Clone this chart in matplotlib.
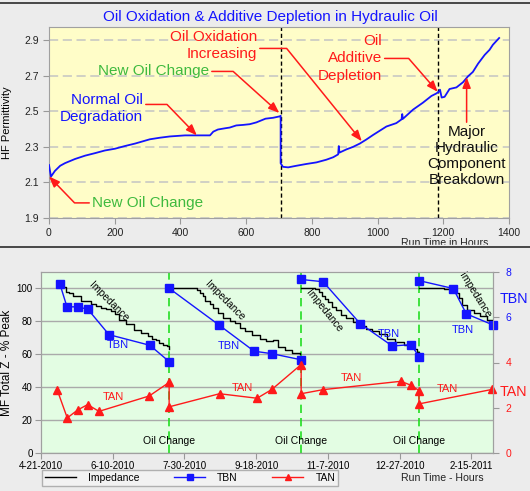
import numpy as np
import matplotlib.pyplot as plt
from matplotlib.lines import Line2D
from matplotlib.patches import Rectangle

plt.rcParams['font.family'] = ['Liberation Sans', 'DejaVu Sans']

# hydraulic oil: HF permittivity vs run time (hours)
hf_hours = [0, 6, 18, 34, 49, 79, 110, 140, 170, 201, 231, 262, 307, 338, 368,
            414, 490, 500, 514, 536, 550, 570, 591, 611, 631, 659, 682, 702, 705,
            705, 712, 728, 753, 783, 814, 844, 865, 880, 882, 884, 905, 925, 946,
            966, 986, 1027, 1057, 1073, 1075, 1077, 1108, 1138, 1164, 1179, 1187,
            1190, 1195, 1204, 1219, 1240, 1260, 1275, 1290, 1306, 1326, 1341,
            1351, 1370]
hf_perm = [2.198, 2.133, 2.165, 2.194, 2.209, 2.232, 2.251, 2.265, 2.280, 2.290,
           2.305, 2.319, 2.343, 2.352, 2.359, 2.365, 2.365, 2.386, 2.398, 2.405,
           2.409, 2.421, 2.424, 2.428, 2.438, 2.459, 2.464, 2.472, 2.475, 2.208,
           2.188, 2.185, 2.194, 2.204, 2.213, 2.228, 2.242, 2.258, 2.305, 2.268,
           2.286, 2.300, 2.319, 2.342, 2.367, 2.415, 2.434, 2.455, 2.485, 2.458,
           2.510, 2.549, 2.587, 2.601, 2.612, 2.622, 2.578, 2.582, 2.626, 2.635,
           2.664, 2.697, 2.722, 2.769, 2.818, 2.847, 2.875, 2.913]
event_hours = [705, 1184]

# diesel engine oil, x = days since 4-21-2010, nan = oil change break
nan = np.nan
imp_days = [12.9, 17.4, 19.7, 22.1, 27.9, 34.8, 38.3, 41.8, 45.3, 48.6, 51.5,
            54.5, 59.2, 64.9, 69.6, 74.3, 77.3, 80.1, 82.4, 84.7, 88.1, 89.3, nan,
            89.3, 107.2, 108.4, 110.7, 113.0, 114.2, 117.7, 120.0, 123.5, 127.0,
            131.6, 135.1, 138.6, 142.1, 146.7, 152.5, 157.1, 161.8, 165.3, 170.0,
            175.0, 180.6, nan,
            181.3, 187.7, 191.1, 193.4, 195.7, 197.9, 200.2, 202.5, 205.9, 209.3,
            212.7, 217.3, 223.0, 226.5, 231.0, 235.6, 241.3, 247.0, 252.7, 256.1,
            259.6, 262.0, 263.4, nan,
            263.4, 270.0, 281.0, 287.0, 289.0, 291.5, 293.7, 297.0, 301.7, 306.0,
            311.0, 315.0]
imp_pct = [101.0, 97.8, 97.0, 95.3, 92.3, 90.7, 89.2, 88.2, 87.6, 86.6, 84.2,
           81.1, 78.5, 75.0, 73.0, 71.0, 69.0, 68.5, 67.0, 65.9, 64.9, 63.1, nan,
           100.0, 100.0, 99.0, 97.4, 95.3, 92.3, 90.3, 88.3, 85.2, 82.2,
           80.1, 79.1, 76.1, 74.0, 72.0, 69.0, 67.9, 68.5, 64.5, 62.5,
           61.0, 60.0, nan,
           100.0, 100.0, 99.6, 98.1, 95.7, 93.3, 91.8, 88.8, 86.9, 83.9,
           82.0, 79.6, 77.1, 75.1, 74.1, 72.2, 69.2, 67.3, 65.9, 64.5,
           63.5, 61.5, 60.5, nan,
           100.0, 100.0, 99.5, 99.5, 97.5, 94.0, 90.0, 87.0, 85.0, 83.0,
           81.0, 78.0]
tbn_days = [13.2, 18.1, 25.8, 32.7, 47.4, 75.9, 89.3, nan,
            89.3, 124.2, 148.5, 160.9, 181.3, nan,
            181.3, 196.6, 222.4, 244.8, 257.9, 263.4, nan,
            263.4, 287.3, 296.4, 315.0]
tbn = [7.46, 6.46, 6.46, 6.35, 5.23, 4.76, 4.04, nan,
       7.28, 5.65, 4.50, 4.39, 4.12, nan,
       7.67, 7.57, 5.72, 4.73, 4.79, 4.26, nan,
       7.62, 7.27, 6.15, 5.66]
tan_days = [11.4, 18.3, 25.5, 32.5, 40.4, 75.4, 89.3, 89.3, 124.4, 150.6, 160.9,
            181.3, 181.3, 196.6, 250.9, 257.9, 263.4, 263.4, 314.3]
tan = [2.77, 1.55, 1.90, 2.14, 1.84, 2.52, 3.12, 2.04, 2.62, 2.42, 2.81,
       3.91, 2.62, 2.80, 3.17, 2.99, 2.76, 2.17, 2.81]
oil_change_days = [89.3, 181.3, 263.4]
date_ticks = [0, 50, 100, 150, 200, 250, 300]
date_labels = ['4-21-2010', '6-10-2010', '7-30-2010', '9-18-2010', '11-7-2010',
               '12-27-2010', '2-15-2011']

W, H = 530, 491
bg = '#ececec'
blue = '#1414ff'
red = '#ff1a1a'
green = '#3fba3f'

fig = plt.figure(figsize=(W / 100, H / 100), dpi=100, facecolor=bg)

# ---- top chart ----
ax1 = fig.add_axes([49 / W, 1 - 218 / H, 460 / W, 191 / H])
ax1.set_facecolor('#fffdc8')
ax1.plot(hf_hours, hf_perm, color=blue, lw=1.3, zorder=3)
for h in event_hours:
    ax1.axvline(h, color='black', lw=1, dashes=(3, 2), zorder=2)
ax1.set_xlim(0, 1400)
ax1.set_ylim(1.9, 2.975)
ax1.set_xticks(range(0, 1401, 200))
ax1.set_yticks([1.9, 2.1, 2.3, 2.5, 2.7, 2.9])
ax1.yaxis.grid(True, color='#c4c4c4', lw=1.1, dashes=(6, 3))
ax1.tick_params(labelsize=7.5, length=4, pad=3, color='#999999', labelcolor='#222222')
for s in ax1.spines.values():
    s.set_color('#a0a0a0')
ax1.set_ylabel('HF Permittivity', fontsize=8)
ax1.yaxis.set_label_coords(-0.08, 0.5)

fig.text(270 / W, 1 - 17 / H, 'Oil Oxidation & Additive Depletion in Hydraulic Oil',
         color=blue, fontsize=11, ha='center', va='center')
fig.text(445 / W, 1 - 246 / H, 'Run Time in Hours', fontsize=7.6, ha='center',
         va='baseline', color='#222222', zorder=0.5)

arrow = dict(arrowstyle='-|>,head_length=0.65,head_width=0.25', color=red, lw=1.1,
             mutation_scale=10, shrinkA=0, shrinkB=0)
ls = 1.3
ax1.annotate('New Oil Change', xy=(0, 2.134), xytext=(131, 1.985), color=green,
             fontsize=11, ha='left', va='center',
             arrowprops=dict(arrow, relpos=(0, 0.5),
                             connectionstyle='angle,angleA=0,angleB=-46,rad=0'))
ax1.annotate('Normal Oil\nDegradation', xy=(450, 2.365), xytext=(286, 2.518),
             color=blue, fontsize=11, ha='right', va='center', linespacing=ls,
             arrowprops=dict(arrow, relpos=(1, 0.62),
                             connectionstyle='angle,angleA=0,angleB=134,rad=0'))
ax1.annotate('New Oil Change', xy=(701, 2.491), xytext=(487, 2.725), color=green,
             fontsize=11, ha='right', va='center',
             arrowprops=dict(arrow, relpos=(1, 0.5),
                             connectionstyle='angle,angleA=0,angleB=138,rad=0'))
ax1.annotate('Oil Oxidation\nIncreasing', xy=(952, 2.332), xytext=(633, 2.872),
             color=red, fontsize=11, ha='right', va='center', linespacing=ls,
             arrowprops=dict(arrow, relpos=(1, 0.4),
                             connectionstyle='angle,angleA=0,angleB=129,rad=0'))
ax1.annotate('Oil\nAdditive\nDepletion', xy=(1183, 2.61), xytext=(1013, 2.798),
             color=red, fontsize=11, ha='right', va='center', linespacing=ls,
             arrowprops=dict(arrow, relpos=(1, 0.5),
                             connectionstyle='angle,angleA=0,angleB=131,rad=0'))
ax1.annotate('Major\nHydraulic\nComponent\nBreakdown', xy=(1271, 2.693),
             xytext=(1271, 2.25), color='#111111', fontsize=11, ha='center',
             va='center', linespacing=1.17,
             arrowprops=dict(arrow, relpos=(0.5, 1)))

# ---- bottom chart ----
fig.add_artist(Rectangle((0, 0), 1, 1 - 245 / H, transform=fig.transFigure,
                         color=bg, zorder=1))
fig.add_artist(Line2D([0, 1], [1 - 247.5 / H] * 2, color='#3a3a3a', lw=1.3, zorder=2))
fig.add_artist(Line2D([0, 1], [1 - 3 / H] * 2, color='#3a3a3a', lw=1.3, zorder=2))

ax2 = fig.add_axes([41 / W, 1 - 453 / H, 452 / W, 181 / H], zorder=2)
ax2.set_facecolor('#e3fde3')
ax2.plot(imp_days, imp_pct, color='black', lw=1, drawstyle='steps-post', zorder=3)
for d in oil_change_days:
    ax2.axvline(d, color='#22dd22', lw=1.2, dashes=(5, 3), zorder=2)
    ax2.text(d, 7.5, 'Oil Change', fontsize=7.5, ha='center', va='center')
ax2.set_xlim(0, 315)
ax2.set_ylim(0, 110)
ax2.set_xticks(date_ticks)
ax2.set_xticklabels(date_labels)
ax2.set_yticks(range(0, 101, 20))
ax2.yaxis.grid(True, color='#aaaaaa', lw=1)
ax2.set_axisbelow(True)
ax2.tick_params(labelsize=7, length=4, pad=2, color='#999999')
ax2.set_ylabel('MF Total Z - % Peak', fontsize=8.5)
ax2.yaxis.set_label_coords(-0.063, 0.5)

for x, y, rot in [(46.9, 92.1, -45), (128.1, 92.6, -45), (197.6, 86.2, -51),
                  (302.4, 96.0, -58)]:
    ax2.text(x, y, 'Impedance', rotation=rot, fontsize=7.5, ha='center',
             va='center', rotation_mode='anchor')
for x, y in [(53.4, 65.5), (130.7, 65.3), (242.3, 72.4), (293.9, 75.0)]:
    ax2.text(x, y, 'TBN', color=blue, fontsize=8, ha='center', va='center')
for x, y in [(50.6, 34.1), (140.0, 39.6), (216.0, 45.6), (283.4, 39.0)]:
    ax2.text(x, y, 'TAN', color=red, fontsize=8, ha='center', va='center')

ax3 = ax2.twinx()
ax3.set_zorder(3)
ax3.plot(tbn_days, tbn, color=blue, lw=1, marker='s', ms=6, clip_on=False)
ax3.plot(tan_days, tan, color=red, lw=1, marker='^', ms=5.5, clip_on=False)
ax3.set_ylim(0, 8)
ax3.set_yticks([0, 2, 4, 6, 8])
ax3.tick_params(labelsize=7.5, length=4, pad=5, color='#999999')
for lab, v in zip(ax3.get_yticklabels(), [0, 2, 4, 6, 8]):
    lab.set_color(blue if v >= 6 else red)
for ax in (ax2, ax3):
    for s in ax.spines.values():
        s.set_color('#a0a0a0')

fig.text(500 / W, 1 - 299 / H, 'TBN', color=blue, fontsize=10.3, va='center')
fig.text(500 / W, 1 - 392 / H, 'TAN', color=red, fontsize=10.3, va='center')
fig.text(442 / W, 1 - 478 / H, 'Run Time - Hours', fontsize=7.6, ha='center',
         va='center', color='#222222')

handles = [Line2D([], [], color='black', lw=1),
           Line2D([], [], color=blue, lw=1, marker='s', ms=5),
           Line2D([], [], color=red, lw=1, marker='^', ms=5)]
fig.legend(handles, ['Impedance', 'TBN', 'TAN'], loc='center',
           bbox_to_anchor=(190 / W, 1 - 478 / H), ncol=3, fontsize=7.5,
           fancybox=False, edgecolor='#b0b0b0', facecolor='#f2f2f2',
           framealpha=1, handlelength=3.0, handletextpad=1.15,
           columnspacing=3.3, borderpad=0.25)

fig.savefig('out.png', dpi=100, facecolor=bg)
